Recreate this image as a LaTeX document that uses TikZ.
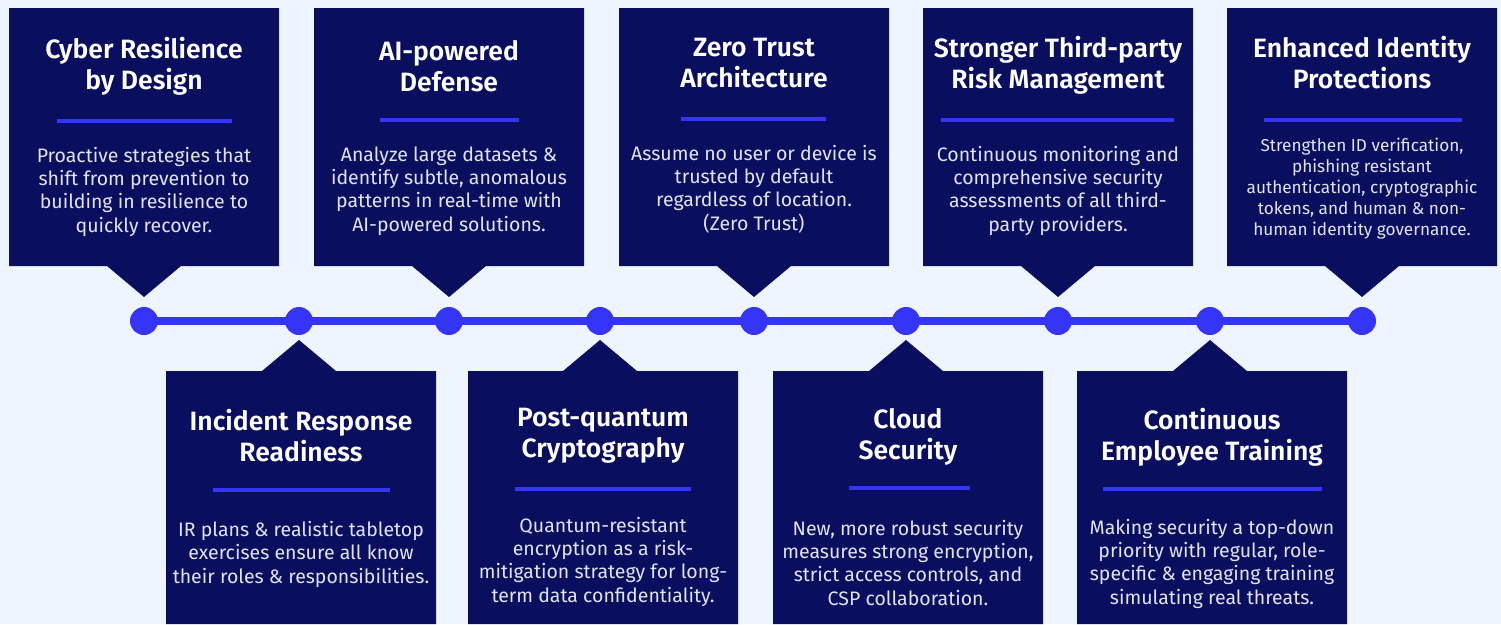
\documentclass[tikz,border=0pt]{standalone}
\usepackage{fontspec}
\setmainfont{Fira Sans}[BoldFont={Fira Sans SemiBold}]

\definecolor{pagebg}{HTML}{EEF5FE}
\definecolor{navy}{HTML}{0A0E5F}
\definecolor{accent}{HTML}{3535F8}
\definecolor{bodytext}{HTML}{E2E3F0}

% multi-line nodes sit on the baseline of their last line
\tikzset{
	card/.style = {fill = navy},
	heading/.style = {anchor = base, align = center, text = white, inner sep = 0pt, font = \bfseries\fontsize{26.5}{30.5}\selectfont},
	blurb/.style = {anchor = base, align = center, text = bodytext, inner sep = 0pt, font = \fontsize{19.5}{23.3}\selectfont},
	smallblurb/.style = {blurb, font = \fontsize{17.2}{20.8}\selectfont},
	rule/.style = {draw = accent, line width = 4pt},
	dot/.style = {fill = accent},
}

\begin{document}
\begin{tikzpicture}[x=1pt, y=-1pt]
	\useasboundingbox (0, 0) rectangle (1501, 624);
	\fill[pagebg] (0, 0) rectangle (1501, 624);

	% cards above the line
	\foreach \cx in {144, 449, 754, 1058, 1362} {
		\fill[card] (\cx-135, 8)
		  -- ++(270, 0)
		  -- ++(0, 258)
		  -- (\cx+37, 266)
		  -- (\cx, 297)
		  -- (\cx-37, 266)
		  -- (\cx-135, 266)
		  -- cycle;
	}

	% cards below the line
	\foreach \cx/\px in {301/299, 603/600, 908/906, 1212/1210} {
		\fill[card] (\cx-135, 624)
		  -- ++(0, -253)
		  -- (\px-37, 371)
		  -- (\px, 340)
		  -- (\px+37, 371)
		  -- (\cx+135, 371)
		  -- ++(0, 253)
		  -- cycle;
	}

	% timeline
	\foreach \x [count=\i] in {144, 299, 449, 600, 754, 906, 1058, 1210, 1362}
		\coordinate (d\i) at (\x, 321);
	\draw[accent, line width = 8pt] (d1) -- (d9);
	\foreach \i in {1, ..., 9}
		\fill[dot] (d\i) circle (14pt);

	% short rules under the headings
	\foreach \a/\b/\y in {57/232/121, 380/519/120, 681/826/119, 941/1174/120, 1264/1462/120,
		213/390/490, 515/691/489, 849/970/488, 1103/1322/489}
		\draw[rule] (\a, \y) -- (\b, \y);

	\node[heading] (resilience) at (144, 89) {Cyber Resilience\\by Design};
	\node[blurb] (resilienceText) at (144, 232) {Proactive strategies that\\shift from prevention to\\building in resilience to\\quickly recover.};

	\node[heading] (aiDefense) at (449, 91) {AI-powered\\Defense};
	\node[blurb] (aiDefenseText) at (449, 231) {Analyze large datasets \&\\identify subtle, anomalous\\patterns in real-time with\\AI-powered solutions.};

	\node[heading] (zeroTrust) at (754, 87) {Zero Trust\\Architecture};
	\node[blurb] (zeroTrustText) at (754, 230) {Assume no user or device is\\trusted by default\\regardless of location.\\(Zero Trust)};

	\node[heading] (thirdParty) at (1058, 88) {Stronger Third-party\\Risk Management};
	\node[blurb] (thirdPartyText) at (1058, 231) {Continuous monitoring and\\comprehensive security\\assessments of all third-\\party providers.};

	\node[heading] (identity) at (1362, 88) {Enhanced Identity\\Protections};
	\node[smallblurb] (identityText) at (1362, 235) {Strengthen ID verification,\\phishing resistant\\authentication, cryptographic\\tokens, and human \& non-\\human identity governance.};

	\node[heading] (incident) at (301, 461) {Incident Response\\Readiness};
	\node[blurb] (incidentText) at (301, 583) {IR plans \& realistic tabletop\\exercises ensure all know\\their roles \& responsibilities.};

	\node[heading] (quantum) at (603, 457) {Post-quantum\\Cryptography};
	\node[blurb] (quantumText) at (603, 602) {Quantum-resistant\\encryption as a risk-\\mitigation strategy for long-\\term data confidentiality.};

	\node[heading] (cloud) at (908, 459) {Cloud\\Security};
	\node[blurb] (cloudText) at (908, 605) {New, more robust security\\measures strong encryption,\\strict access controls, and\\CSP collaboration.};

	\node[heading] (training) at (1212, 460) {Continuous\\Employee Training};
	\node[blurb] (trainingText) at (1212, 604) {Making security a top-down\\priority with regular, role-\\specific \& engaging training\\simulating real threats.};
\end{tikzpicture}
\end{document}
